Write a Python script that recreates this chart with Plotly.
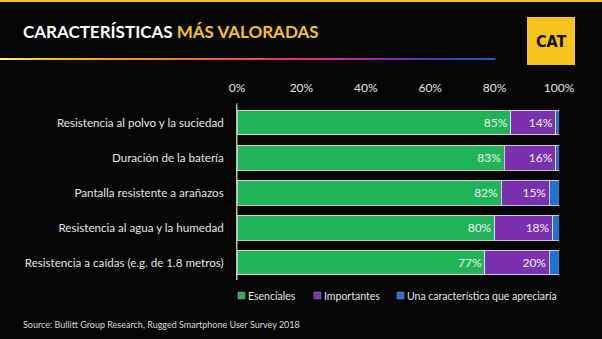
import plotly.graph_objects as go

categories = [
    "Resistencia al polvo y la suciedad",
    "Duración de la batería",
    "Pantalla resistente a arañazos",
    "Resistencia al agua y la humedad",
    "Resistencia a caídas (e.g. de 1.8 metros)",
]
esenciales = [85, 83, 82, 80, 77]
importantes = [14, 16, 15, 18, 20]
aprecia = [1, 1, 3, 2, 3]
series_names = ["Esenciales", "Importantes", "Una característica que apreciaría"]
series_colors = ["#20b358", "#7b30b0", "#2272d4"]
tick_vals = [0, 20, 40, 60, 80, 100]
tick_text = ["0%", "20%", "40%", "60%", "80%", "100%"]

W, H = 602, 339
FONT = "Lato"
TOP, BOT = 105, 280

fig = go.Figure()
for vals, name, col, show in zip([esenciales, importantes, aprecia], series_names, series_colors, [True, True, False]):
    fig.add_trace(go.Bar(
        y=categories, x=vals, name=name, orientation="h",
        marker=dict(color=col, line=dict(color="rgba(225,225,225,0.85)", width=1)),
        text=[f"{v}%" for v in vals] if show else None,
        textposition="inside" if show else "none",
        insidetextanchor="end",
        textfont=dict(color="#f0f0f0", size=12, family=FONT),
        showlegend=False,
        hoverinfo="x+y+name",
    ))


def xr(x):
    return (x - 237) / 322.0


def yr(y):
    return (BOT - y) / float(BOT - TOP)


shapes = []
# top yellow border
shapes.append(dict(type="rect", xref="paper", yref="paper", x0=xr(0), x1=xr(W), y0=yr(2), y1=yr(0),
                   line=dict(width=0), fillcolor="#f2c21b", layer="below"))
# y axis line extending slightly above plot
shapes.append(dict(type="line", xref="paper", yref="paper", x0=0, x1=0, y0=0, y1=yr(103),
                   line=dict(color="#bdbdbd", width=1)))

# gradient line under title
stops = [(0, (255, 240, 150)), (40, (245, 200, 40)), (150, (240, 140, 40)), (280, (225, 60, 90)),
         (340, (200, 50, 150)), (390, (130, 50, 170)), (440, (70, 60, 180)), (495, (30, 90, 200))]


def lerp_color(x):
    for (x0, c0), (x1, c1) in zip(stops[:-1], stops[1:]):
        if x0 <= x <= x1:
            t = (x - x0) / (x1 - x0)
            return "rgb(%d,%d,%d)" % tuple(int(a + (b - a) * t) for a, b in zip(c0, c1))
    return "rgb(30,90,200)"


n = 99
for i in range(n):
    xa = 495 * i / n
    xb = 495 * (i + 1) / n + 0.5
    shapes.append(dict(type="line", xref="paper", yref="paper", x0=xr(xa), x1=xr(xb), y0=yr(59), y1=yr(59),
                       line=dict(color=lerp_color((xa + xb) / 2), width=2)))

# CAT logo box
shapes.append(dict(type="rect", xref="paper", yref="paper", x0=xr(527), x1=xr(575), y0=yr(65), y1=yr(17),
                   line=dict(width=0), fillcolor="#f5c31c"))

annotations = []
annotations.append(dict(xref="paper", yref="paper", x=xr(551), y=yr(41), text="<b>CAT</b>", showarrow=False,
                        font=dict(family="DejaVu Sans Condensed, DejaVu Sans", size=16, color="#111"),
                        xanchor="center", yanchor="middle"))
annotations.append(dict(xref="paper", yref="paper", x=xr(21), y=yr(31),
                        text="<b>CARACTERÍSTICAS <span style='color:#f6c324'>MÁS VALORADAS</span></b>",
                        showarrow=False, font=dict(family=FONT, size=17, color="#ffffff"),
                        xanchor="left", yanchor="middle"))
annotations.append(dict(xref="paper", yref="paper", x=xr(21), y=yr(324),
                        text="Source: Bullitt Group Research, Rugged Smartphone User Survey 2018",
                        showarrow=False, font=dict(family=FONT, size=9, color="#dcdcdc"),
                        xanchor="left", yanchor="middle"))

# manual legend
legend_pos = [238, 314, 397]
for xs, name, col in zip(legend_pos, series_names, series_colors):
    shapes.append(dict(type="rect", xref="paper", yref="paper", x0=xr(xs), x1=xr(xs + 7), y0=yr(299), y1=yr(292),
                       line=dict(color="rgba(200,200,200,0.6)", width=0.5), fillcolor=col))
    annotations.append(dict(xref="paper", yref="paper", x=xr(xs + 8), y=yr(295.5), text=name, showarrow=False,
                            font=dict(family=FONT, size=10.5, color="#e6e6e6"), xanchor="left", yanchor="middle"))

fig.update_layout(
    width=W, height=H,
    margin=dict(l=237, r=W - 559, t=TOP, b=H - BOT, pad=0),
    paper_bgcolor="#050505", plot_bgcolor="#050505",
    barmode="stack", bargap=0.286,
    showlegend=False,
    shapes=shapes, annotations=annotations,
    xaxis=dict(range=[0, 100], side="top", tickvals=tick_vals, ticktext=tick_text,
               showgrid=False, zeroline=False, showline=False, ticks="",
               tickfont=dict(family=FONT, size=12, color="#e6e6e6"), ticklabelstandoff=10, fixedrange=True),
    yaxis=dict(autorange="reversed", showgrid=False, zeroline=False, showline=True,
               linecolor="#bdbdbd", linewidth=1, ticks="",
               tickfont=dict(family=FONT, size=11.6, color="#e6e6e6"), ticklabelstandoff=10, fixedrange=True),
    font=dict(family=FONT, color="#e6e6e6"),
)

fig.write_html("out.html")
